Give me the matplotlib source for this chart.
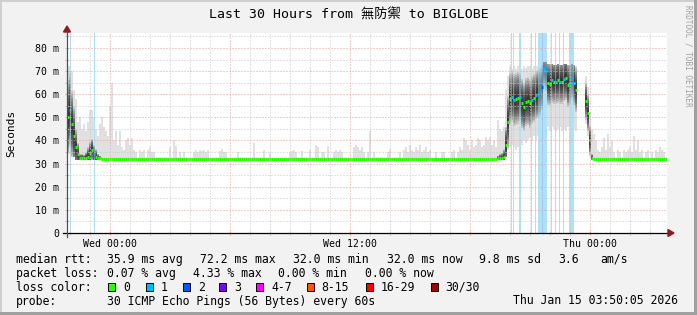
import numpy as np
import matplotlib
matplotlib.use('Agg')
import matplotlib.pyplot as plt
from matplotlib.patches import Rectangle, Polygon

# ---- data (one column = 6 minutes, 30 hours from Tue 21:50) ----
nan = float('nan')
step_h = 0.1

median_ms = (
    [50, 53, 47, 42, 37, 34, 32.5, 32.5, 32.3, 32.5, 33, 34.5, 36, 34, 33, 32.5, 32.5]
    + [32.0] * 198
    + [32.5, 32.5, 32.3, 33, 38, 48, 58, 59, 57.5, 58, 58.5, 59, 56, 54.5, 56.5, 57,
       56, 57.5, 58.5, 59.5, 60, 61, 63, 71, 70, 65, 64.5, 66, 65.5, 65.5, 66, 65.5,
       65.5, 66.5, 67, 64, 65, 67, 65, 62, nan, nan, nan, nan, 57, 52, 40, 32.5]
    + [32.0] * 37
)

smoke_hi_ms = (
    [72, 72, 70, 62, 58, 48, 50, 45, 47, 44, 48, 53, 53, 50, 45, 42, 47]
    + [50, 46, 44, 42, 55, 65, 40, 44, 38, 44,
       37, 36, 40, 41, 38, 41, 36, 35, 32.5, 36,
       35, 36, 32.5, 36, 37, 35, 35, 32.5, 32.5, 32.5,
       32.5, 32.5, 32.5, 32.5, 37, 32.5, 40, 37.5, 32.5, 35,
       32.5, 35, 32.5, 32.5, 32.5, 32.5, 35, 36, 35, 36,
       35.5, 36, 35, 36, 32.5, 32.5, 32.5, 32.5, 32.5, 35.5,
       36.5, 35, 35, 32.5, 32.5, 32.5, 32.5, 32.5, 35, 32.5,
       32.5, 32.5, 32.5, 32.5, 32.5, 32.5, 39, 32.5, 32.5, 32.5,
       32.5, 36, 32.5, 32.5, 34.5, 32.5, 32.5, 32.5, 32.5, 32.5,
       32.5, 32.5, 32.5, 32.5, 35, 35.5, 36, 35, 32.5, 32.5,
       35.5, 32.5, 32.5, 32.5, 36, 32.5, 32.5, 38, 37, 32.5,
       35, 35, 32.5, 37.5, 32.5, 32.5, 35, 36, 35, 36,
       35, 32.5, 32.5, 32.5, 32.5, 32.5, 37, 38, 37, 36,
       37, 35, 32.5, 35, 44, 32.5, 35, 32.5, 32.5, 32.5,
       32.5, 32.5, 32.5, 35, 36.5, 32.5, 32.5, 32.5, 32.5, 35,
       32.5, 36, 37, 35, 38, 36, 35, 37, 36, 38,
       35, 36, 37, 35, 36, 32.5, 32.5, 35, 32.5, 32.5,
       35, 35, 32.5, 32.5, 32.5, 35, 36, 32.5, 35, 37,
       36, 41, 40, 38, 36, 40, 37, 38, 41, 40,
       37, 38, 41.5, 40, 41.5, 38, 40, 37]
    + [49, 45, 44, 46, 62, 68, 72, 71, 72, 71, 72, 72, 71, 72, 71.5, 72,
       72, 71, 72, 72, 72, 72.5, 73, 74, 74, 73, 73, 73, 72.5, 72.5, 73, 72.5,
       72.5, 73, 73, 72.5, 72.5, 73, 72.5, 72, nan, nan, nan, nan, 68, 63, 52, 45]
    + [43, 40, 36, 35, 37, 41, 36, 43, 37, 40, 35, 32.5, 36, 35, 32.5, 36, 35, 36, 37,
       35, 42, 36, 40, 35, 36, 32.5, 35, 36, 32.5, 35, 32.5, 36, 35, 37, 36, 35, 32.5]
)

smoke_lo_ms = (
    [35, 34, 33, 33] + [31.5] * 211
    + [31.5, 31.5, 31.5, 31.5, 33, 36, 37, 38, 37, 36, 37, 38, 38, 40, 39, 40,
       41, 40, 42, 40, 42, 46, 50, 52, 48, 46, 44, 46, 45, 44, 45, 46,
       44, 45, 44, 46, 44, 46, 45, 44, nan, nan, nan, nan, 47, 42, 33, 31.5]
    + [31.5] * 37
)

# half width of the dark part of the smoke
smoke_core_ms = (
    [10, 10, 9, 8, 5, 3, 1, 1, 1, 1.5, 2.5, 3, 3, 2.5, 2, 1, 0.5]
    + [0] * 198
    + [0.5, 1, 1.5, 2, 5, 7, 7, 7, 7, 7, 7, 6.5, 6.5, 6.5, 6.5, 6.5,
       6.5, 6.5, 6.5, 6.5, 6.5, 6.5, 6, 5, 5.5, 6, 6, 6, 6, 6, 6, 6,
       6, 6, 6, 6, 6, 6, 6, 6, nan, nan, nan, nan, 5, 5, 4, 1]
    + [0] * 37
)

# loss events (hours since start, lost pings)
loss_hours = [0.15, 1.35, 22.2, 22.3, 22.6, 22.65, 23.2, 23.4, 23.55, 23.6, 23.65,
              23.7, 23.75, 23.8, 23.85, 23.9, 23.95, 24.2, 24.4, 24.6, 24.8,
              25.1, 25.15, 25.2, 25.25, 25.3]
loss_counts = [1, 1, 1, 1, 1, 1, 1, 1, 1, 1, 1,
               1, 2, 1, 1, 1, 1, 1, 1, 1, 1,
               1, 1, 1, 1, 1]

x_major_hours = [13/6, 49/6, 85/6, 121/6, 157/6]
x_major_labels = ['Wed 00:00', '', 'Wed 12:00', '', 'Thu 00:00']
y_major = [0, 10, 20, 30, 40, 50, 60, 70, 80]
y_labels = ['0', '10 m', '20 m', '30 m', '40 m', '50 m', '60 m', '70 m', '80 m']

loss_colors = {0: '#26ff00', 1: '#00b8ff', 2: '#0059ff'}
loss_bg = {1: '#ade3f8', 2: '#a8c6f2'}

legend_keys = ['0', '1', '2', '3', '4-7', '8-15', '16-29', '30/30']
legend_cols = ['#26ff00', '#00b8ff', '#0059ff', '#7e00ff', '#ff00ff', '#ff5500', '#ff0000', '#a10000']

title = 'Last 30 Hours from 無防禦 to BIGLOBE'

# ---- figure ----
W, H = 697, 315
mono = 'DejaVu Sans Mono'
fig = plt.figure(figsize=(W / 100, H / 100), dpi=100, facecolor='#f2f2f2')
ax = fig.add_axes([67 / W, (H - 233) / H, 600 / W, 200.5 / H])
ax.set_facecolor('white')
ax.set_xlim(0, 30)
ax.set_ylim(0, 86.7)
for s in ax.spines.values():
    s.set_visible(False)

med = np.array(median_ms, float)
hi = np.array(smoke_hi_ms, float)
lo = np.array(smoke_lo_ms, float)
core = np.array(smoke_core_ms, float)
n = len(med)
edges = np.arange(n + 1) * step_h
xs = np.repeat(edges, 2)[1:-1]

def st(v):
    return np.repeat(v, 2)

# smoke envelope
ax.fill_between(xs, st(lo), st(hi), color='k', alpha=0.12, lw=0, zorder=1)

# loss background: under the core, and a faint copy over it
for h, c in zip(loss_hours, loss_counts):
    ax.axvspan(h, h + 0.05, color=loss_bg[c], lw=0, zorder=1.1)
    ax.axvspan(h, h + 0.05, color=loss_bg[c], alpha=0.45, lw=0, zorder=1.3)

# darker smoke core
M = 12
for j in range(M):
    w = core * 1.6 * (1 - j / M)
    top = np.minimum(med + w, hi)
    bot = np.maximum(med - w, lo)
    ok = w > 0
    ax.fill_between(xs, st(np.where(ok, bot, np.nan)), st(np.where(ok, top, np.nan)),
                    color='k', alpha=0.115, lw=0, zorder=1.2)

# median coloured by loss
cols = []
for i in range(n):
    c = 0
    for h, k in zip(loss_hours, loss_counts):
        if edges[i] - 1e-9 <= h < edges[i + 1] - 1e-9:
            c = max(c, k)
    cols.append(loss_colors[c])
good = ~np.isnan(med)
ax.hlines(med[good], edges[:-1][good], edges[1:][good],
          colors=[cols[i] for i in range(n) if good[i]], lw=2.3, zorder=2)

# grid
ax.set_xticks(x_major_hours)
ax.set_xticklabels(x_major_labels)
ax.set_xticks([1/6 + k for k in range(30) if (k - 2) % 6 != 0], minor=True)
ax.set_yticks(y_major)
ax.set_yticklabels(y_labels)
ax.set_yticks([5, 15, 25, 35, 45, 55, 65, 75, 85], minor=True)
ax.set_axisbelow(False)
ax.grid(which='major', color='#e6a0a0', lw=0.72, ls=(0, (1, 2)))
ax.grid(which='minor', color='#c8c8c8', lw=0.72, ls=(0, (1, 2)))
ax.tick_params(axis='x', which='major', length=3, width=0.8, color='#e6a0a0',
               direction='inout', pad=2.5, labelsize=7.1)
ax.tick_params(axis='x', which='minor', length=3, width=0.8, color='#c8c8c8',
               direction='inout')
ax.tick_params(axis='y', which='both', length=3, width=0.8, color='#c0c0c0',
               direction='inout', pad=4.2, labelsize=7.1)
for lab in ax.get_xticklabels() + ax.get_yticklabels():
    lab.set_family(mono)

# axis lines and arrows
def a(xp, yp):
    return ((xp - 67) / 600, (233 - yp) / 200.5)

ax.plot(*zip(a(63, 233), a(669, 233)), transform=ax.transAxes, color='black',
        lw=0.9, clip_on=False, zorder=6)
ax.plot(*zip(a(67, 237), a(67, 30)), transform=ax.transAxes, color='#505050',
        lw=0.9, clip_on=False, zorder=6)
ax.add_patch(Polygon([a(674, 233), a(668, 229.5), a(668, 236.5)], closed=True,
                     transform=ax.transAxes, color='#8f1c1c', clip_on=False, zorder=7))
ax.add_patch(Polygon([a(67, 26), a(63.5, 32), a(70.5, 32)], closed=True,
                     transform=ax.transAxes, color='#8f1c1c', clip_on=False, zorder=7))

# texts
def ft(x, y, s, **kw):
    kw.setdefault('family', mono)
    kw.setdefault('va', 'center')
    fig.text(x / W, 1 - y / H, s, **kw)

ft(348.5, 15, title, ha='center', fontsize=9.5, family=[mono, 'Noto Sans CJK TC'])
ft(11, 133, 'Seconds', ha='center', rotation=90, fontsize=8)
ft(688, 5, 'RRDTOOL / TOBI OETIKER', ha='center', va='top', rotation=270,
   fontsize=5.5, color='#a0a0a0')

fs = 8.3
row1 = [(16, 'median rtt:'), (107, '35.9 ms avg'), (200, '72.2 ms max'),
        (293, '32.0 ms min'), (387, '32.0 ms now'), (479, '9.8 ms sd'),
        (558, '3.6'), (600, 'am/s')]
row2 = [(16, 'packet loss:'), (107, '0.07 % avg'), (192.7, '4.33 % max'),
        (277.7, '0.00 % min'), (365, '0.00 % now')]
for x, s in row1:
    ft(x, 259.3, s, fontsize=fs)
for x, s in row2:
    ft(x, 273.3, s, fontsize=fs)
ft(16, 287.3, 'loss color:', fontsize=fs)
sw_x = [108.3, 145.7, 182.7, 219.3, 256, 306.7, 365.7, 430.7]
for x, key, c in zip(sw_x, legend_keys, legend_cols):
    fig.patches.append(Rectangle((x / W, 1 - 291 / H), 7 / W, 8 / H,
                                 transform=fig.transFigure, fc=c, ec='black', lw=0.7))
    ft(x + 15, 287.3, key, fontsize=fs)
ft(16, 301, 'probe:', fontsize=fs)
ft(107, 301, '30 ICMP Echo Pings (56 Bytes) every 60s', fontsize=fs)
ft(513, 301, 'Thu Jan 15 03:50:05 2026', fontsize=fs)

# frame
fig.patches.append(Rectangle((0, 1 - 2 / H), 1, 2 / H, transform=fig.transFigure,
                             fc='#cfcfcf', lw=0))
fig.patches.append(Rectangle((0, 0), 2 / W, 1, transform=fig.transFigure,
                             fc='#cfcfcf', lw=0))
fig.patches.append(Rectangle((0, 0), 1, 3 / H, transform=fig.transFigure,
                             fc='#a0a0a0', lw=0))
fig.patches.append(Rectangle((1 - 3 / W, 0), 3 / W, 1, transform=fig.transFigure,
                             fc='#a0a0a0', lw=0))

fig.savefig('out.png', dpi=100, facecolor=fig.get_facecolor())
